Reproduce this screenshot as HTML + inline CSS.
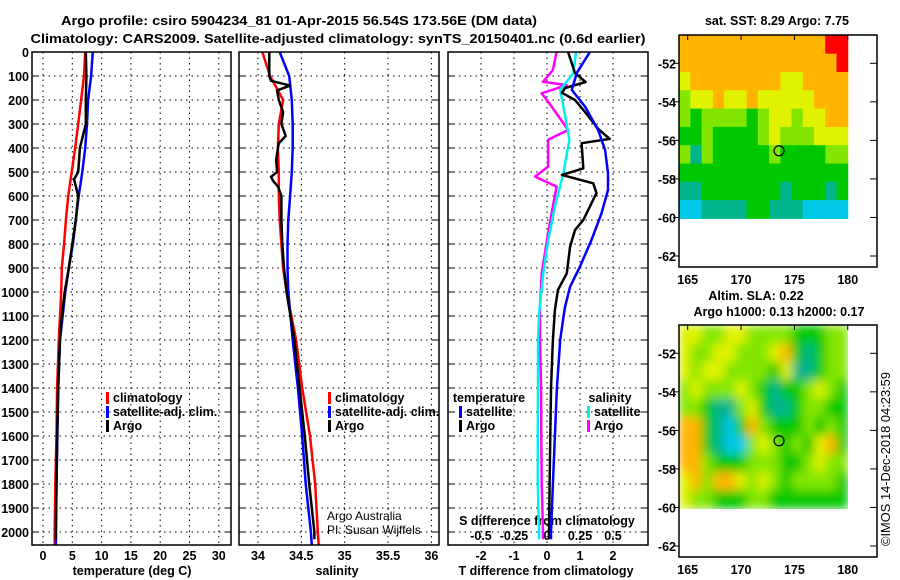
<!DOCTYPE html>
<html><head><meta charset="utf-8">
<style>
html,body{margin:0;padding:0;background:#fff;}
svg{display:block;font-family:"Liberation Sans",sans-serif;}
.b{font-weight:bold;font-size:13px;}
.t{font-weight:bold;font-size:12.5px;}
</style></head>
<body>
<svg id="fig" width="900" height="580" viewBox="0 0 900 580" xmlns="http://www.w3.org/2000/svg">
<text x="299" y="25" text-anchor="middle" class="b" font-size="14" textLength="476" lengthAdjust="spacingAndGlyphs">Argo profile: csiro 5904234_81 01-Apr-2015 56.54S 173.56E (DM data)</text>
<text x="338" y="43" text-anchor="middle" class="b" font-size="14" textLength="615" lengthAdjust="spacingAndGlyphs">Climatology: CARS2009. Satellite-adjusted climatology: synTS_20150401.nc (0.6d earlier)</text>
<text x="777" y="25" text-anchor="middle" class="t">sat. SST: 8.29 Argo: 7.75</text>
<text x="756" y="300" text-anchor="middle" class="t">Altim. SLA: 0.22</text>
<text x="779" y="316" text-anchor="middle" class="t">Argo h1000: 0.13 h2000: 0.17</text>
<text transform="translate(890,546) rotate(-90)" font-size="12.5" textLength="174" lengthAdjust="spacingAndGlyphs">©IMOS 14-Dec-2018 04:23:59</text>
<text x="132" y="575" text-anchor="middle" class="t">temperature (deg C)</text>
<text x="337" y="575" text-anchor="middle" class="t">salinity</text>
<text x="546" y="575" text-anchor="middle" class="t">T difference from climatology</text>
<text x="547" y="525" text-anchor="middle" class="t">S difference from climatology</text>
<text x="327" y="520" font-size="12">Argo Australia</text>
<text x="327" y="534" font-size="12">PI: Susan Wijffels</text>
<defs>
<clipPath id="c1"><rect x="32" y="52" width="199" height="493"/></clipPath>
<clipPath id="c2"><rect x="239" y="52" width="200" height="493"/></clipPath>
<clipPath id="c3"><rect x="448" y="52" width="200" height="493"/></clipPath>
<clipPath id="cm2"><rect x="679" y="325" width="169" height="184"/></clipPath>
<filter id="blur" x="-5%" y="-5%" width="110%" height="110%"><feGaussianBlur stdDeviation="5" edgeMode="duplicate"/></filter>
</defs>
</svg>
<script>
// ---- profile data (depth in dbar) ----
const tDepth = [0,100,200,300,400,500,530,600,700,800,900,1000,1100,1200,1400,1600,1800,2000,2030];
const tArgo  = [7.3,7.4,7.3,7.3,6.3,6.0,5.3,6.0,5.6,5.0,4.4,3.7,3.2,2.9,2.6,2.4,2.3,2.2,2.2];
const climDepth = [0,100,200,300,400,500,600,700,800,900,1000,1200,1400,1600,1800,2000,2056];
const tClim  = [7.2,7.0,6.5,6.0,5.5,4.9,4.3,3.9,3.6,3.2,3.1,2.7,2.4,2.3,2.1,2.0,2.0];
const tSat   = [8.5,8.2,7.7,7.5,7.2,6.7,6.1,5.6,5.1,4.4,3.8,2.9,2.6,2.45,2.3,2.2,2.2];
const sClim  = [34.05,34.14,34.29,34.24,34.23,34.24,34.24,34.25,34.27,34.29,34.33,34.44,34.51,34.60,34.66,34.69,34.70];
const sSat   = [34.25,34.36,34.39,34.40,34.40,34.39,34.37,34.35,34.34,34.34,34.35,34.40,34.46,34.51,34.55,34.61,34.62];
const sArgoDepth = [0,100,120,140,160,200,250,300,350,380,400,450,500,520,540,560,600,700,800,900,1000,1200,1400,1600,1800,2000,2030];
const sArgo  = [34.13,34.13,34.15,34.37,34.22,34.24,34.29,34.27,34.32,34.24,34.23,34.21,34.22,34.15,34.18,34.23,34.27,34.27,34.28,34.30,34.33,34.42,34.48,34.54,34.59,34.65,34.65];
const dDepth = [0,88,125,150,170,200,250,320,362,380,485,512,547,588,700,742,811,922,992,1075,1200,1400,1600,1800,2000,2030];
const dTArgo = [0.64,0.85,1.17,0.55,0.45,0.85,1.15,1.55,1.9,1.05,1.1,0.45,1.4,1.5,1.1,0.85,0.7,0.6,0.33,0.24,0.18,0.12,0.1,0.08,0.06,0.06];
const dSatDepth = [0,88,158,227,325,408,505,575,672,783,894,978,1061,1103,1200,1400,1600,1800,2000,2030];
const dTSat  = [1.3,0.9,0.75,1.15,1.55,1.76,1.85,1.85,1.65,1.35,1.0,0.7,0.55,0.5,0.4,0.3,0.24,0.18,0.12,0.12];
const dSDepth = [0,75,124,138,172,227,325,366,477,519,561,672,783,922,1061,1200,1400,1600,1800,2000,2030];
const dSArgo = [0.073,0.045,-0.03,0.15,-0.04,0.035,0.16,0.008,0.008,-0.09,0.073,0.035,0,-0.04,-0.053,-0.053,-0.045,-0.043,-0.04,-0.03,-0.03];
const dSSatDepth = [0,88,158,227,366,505,644,783,922,1089,1200,1400,1600,1800,2000,2030];
const dSSat  = [0.22,0.2,0.1,0.124,0.17,0.124,0.06,0.01,-0.028,-0.06,-0.068,-0.068,-0.07,-0.07,-0.06,-0.06];
// ticks
const depthTicks = [0,100,200,300,400,500,600,700,800,900,1000,1100,1200,1300,1400,1500,1600,1700,1800,1900,2000];
const tTicks = [0,5,10,15,20,25,30];
const sTicks = [34,34.5,35,35.5,36];
const sTickLabels = ["34","34.5","35","35.5","36"];
const dTTicks = [-2,-1,0,1,2];
const dSTicks = [-0.5,-0.25,0,0.25,0.5];
const dSTickLabels = ["-0.5","-0.25","0","0.25","0.5"];
const latTicks = [52,54,56,58,60,62];
const lonTicks = [165,170,175,180];
// map grids (palette index), rows from 50.55S to 60.05S, cols 164.2E to 180E
const sstGrid = [
[6,6,6,6,6,6,6,6,6,6,6,6,6,7,7],
[6,6,6,6,6,6,6,6,6,6,6,6,6,6,7],
[5,6,6,6,6,6,6,6,6,5,5,6,6,6,6],
[4,5,5,6,5,5,6,5,5,5,5,5,6,6,6],
[4,3,4,4,4,4,3,4,5,5,4,5,5,6,6],
[3,3,4,3,3,3,3,4,5,4,4,4,5,5,5],
[4,2,4,3,3,3,3,3,4,3,3,3,3,4,4],
[3,3,3,3,3,3,3,3,3,3,3,3,3,3,3],
[2,2,3,3,3,3,3,3,3,2,3,3,3,2,3],
[1,1,2,2,2,2,3,3,2,2,2,1,1,1,1]];
const slaGrid = [
[5,5,4,4,5,5,4,4,4,4,3,3,3,4,4],
[5,4,4,5,5,4,4,4,5,6,3,2,3,4,4],
[5,4,5,5,4,4,4,4,3,5,2,2,3,4,4],
[4,5,4,4,4,5,4,3,2,3,3,4,5,4,3],
[4,4,3,2,2,4,5,3,2,2,3,4,4,3,3],
[6,6,3,2,1,3,6,4,3,3,3,4,3,4,3],
[6,6,3,2,1,1,4,5,4,3,4,3,5,6,3],
[6,6,4,3,3,3,4,4,4,3,3,4,5,4,4],
[5,6,4,6,6,5,4,5,4,3,4,4,4,4,3],
[5,4,4,3,3,3,4,4,3,3,3,3,3,3,3]];
const palette = ["#0040ff","#00c8e8","#00b48c","#00c800","#82e600","#e0f200","#ffb400","#ff0000"];
const argoLon = 173.56, argoLatS = 56.54;

const NS="http://www.w3.org/2000/svg";
const svg=document.getElementById('fig');
function mk(tag,at,parent){const e=document.createElementNS(NS,tag);for(const k in at)e.setAttribute(k,at[k]);(parent||svg).appendChild(e);return e;}
const yD=d=>52+0.24*d;
const xT=t=>43+5.86*t;
const xS=s=>258+86.7*(s-34);
const xDT=t=>547+33*t;
const xDS=s=>547+132*s;
const xLon=l=>687.7+10.67*(l-165);
const yLatTop=l=>63.3+19.27*(l-52);
const yLatBot=l=>353.3+19.27*(l-52);

const panels=[{x0:32,x1:231,n:'temperature'},{x0:239,x1:439,n:'salinity'},{x0:448,x1:648,n:'difference'}];
panels.forEach(p=>{
  depthTicks.forEach(d=>{
    const g=mk('line',{x1:p.x0,x2:p.x1,y1:yD(d),y2:yD(d),stroke:'#000','stroke-width':1,'stroke-dasharray':'1.5 4'});
    
    
    const tk=mk('line',{x1:p.x0,x2:p.x0+6,y1:yD(d),y2:yD(d),stroke:'#000','stroke-width':1});
    
    
    const tk2=mk('line',{x1:p.x1-6,x2:p.x1,y1:yD(d),y2:yD(d),stroke:'#000','stroke-width':1});
    
    
  });
});
depthTicks.forEach(d=>{
  const t=mk('text',{x:29,y:yD(d)+5,'text-anchor':'end','class':'t'});t.textContent=String(d);
  
  
});
function vgrid(x,name){
  const g=mk('line',{x1:x,x2:x,y1:52,y2:545,stroke:'#000','stroke-width':1,'stroke-dasharray':'1.5 4'});
  
  
}
function label(x,y,txt,name){
  const t=mk('text',{x:x,y:y,'text-anchor':'middle','class':'t'});t.textContent=txt;
  
  
}
tTicks.forEach(v=>{vgrid(xT(v),'temperature-gridline');label(xT(v),560,String(v),'temperature-tick-label');});
sTicks.forEach((v,i)=>{vgrid(xS(v),'salinity-gridline');label(xS(v),560,sTickLabels[i],'salinity-tick-label');});
dTTicks.forEach(v=>{vgrid(xDT(v),'t-difference-gridline');label(xDT(v),560,String(v),'t-difference-tick-label');});
dSTicks.forEach((v,i)=>{label(xDS(v),540,dSTickLabels[i],'s-difference-tick-label');});

function line(xs,ds,xf,color,clip,name,w){
  const pts=xs.map((v,i)=>xf(v).toFixed(1)+','+yD(ds[i]).toFixed(1)).join(' ');
  const e=mk('polyline',{points:pts,fill:'none',stroke:color,'stroke-width':w||2.5,'stroke-linejoin':'round','clip-path':'url(#'+clip+')'});
  
  
}
line(tClim,climDepth,xT,'#ff0000','c1','temperature-climatology-line');
line(tSat,climDepth,xT,'#0000ff','c1','temperature-satellite-line');
line(tArgo,tDepth,xT,'#000','c1','temperature-argo-line');
line(sClim,climDepth,xS,'#ff0000','c2','salinity-climatology-line');
line(sSat,climDepth,xS,'#0000ff','c2','salinity-satellite-line');
line(sArgo,sArgoDepth,xS,'#000','c2','salinity-argo-line');
line(dSArgo,dSDepth,xDS,'#ff00ff','c3','s-difference-argo-line');
line(dSSat,dSSatDepth,xDS,'#00f0f0','c3','s-difference-satellite-line');
line(dTArgo,dDepth,xDT,'#000','c3','t-difference-argo-line');
line(dTSat,dSatDepth,xDT,'#0000ff','c3','t-difference-satellite-line');

panels.forEach(p=>{
  const f=mk('rect',{x:p.x0,y:52,width:p.x1-p.x0,height:493,fill:'none',stroke:'#000','stroke-width':1.5});
  
  
});

function legend(x,y,color,txt,name){
  const m=mk('rect',{x:x,y:y-10,width:3,height:12,fill:color});
  
  
  const t=mk('text',{x:x+7,y:y,'class':'t'});t.textContent=txt;
  
  
}
legend(106,402,'#ff0000','climatology','legend-entry-climatology');
legend(106,416,'#0000ff','satellite-adj. clim.','legend-entry-satellite');
legend(106,430,'#000','Argo','legend-entry-argo');
legend(328,402,'#ff0000','climatology','salinity-legend-climatology');
legend(328,416,'#0000ff','satellite-adj. clim.','salinity-legend-satellite');
legend(328,430,'#000','Argo','salinity-legend-argo');
label(489,402,'temperature','legend-temperature-heading');
legend(459,416,'#0000ff','satellite','legend-t-satellite');
legend(459,430,'#000','Argo','legend-t-argo');
label(610,402,'salinity','legend-salinity-heading');
legend(587,416,'#00f0f0','satellite','legend-s-satellite');
legend(587,430,'#ff00ff','Argo','legend-s-argo');

function drawMap(grid,yLat,fy,name,blur){
  const g=mk('g',blur?{'clip-path':'url(#cm2)'}:{});
  const inner=mk('g',blur?{filter:'url(#blur)'}:{},g);
  const lon0=164.2,lon1=180,lat0=50.55,lat1=60.05;
  const nr=grid.length,nc=grid[0].length;
  grid.forEach((row,r)=>row.forEach((v,c)=>{
    const xa=xLon(lon0+(lon1-lon0)*c/nc),xb=xLon(lon0+(lon1-lon0)*(c+1)/nc);
    const ya=yLat(lat0+(lat1-lat0)*r/nr),yb=yLat(lat0+(lat1-lat0)*(r+1)/nr);
    const cell=mk('rect',{x:xa,y:ya,width:xb-xa+0.5,height:yb-ya+0.5,fill:palette[v]},inner);
    
    
  }));
  const fr=mk('rect',{x:679,y:fy,width:198,height:232,fill:'none',stroke:'#000','stroke-width':1.5});
  
  
  latTicks.forEach(l=>{
    const t=mk('text',{x:676,y:yLat(l)+5,'text-anchor':'end','class':'t'});t.textContent='-'+l;
    
    
    const tk=mk('line',{x1:870,x2:877,y1:yLat(l),y2:yLat(l),stroke:'#000'});
    
    
    const tk2=mk('line',{x1:679,x2:673,y1:yLat(l),y2:yLat(l),stroke:'#000'});
    
    
  });
  lonTicks.forEach(l=>{
    const t=mk('text',{x:xLon(l),y:fy+249,'text-anchor':'middle','class':'t'});t.textContent=String(l);
    
    
    const tk=mk('line',{x1:xLon(l),x2:xLon(l),y1:fy,y2:fy+5,stroke:'#000'});
    
    
  });
  const c=mk('circle',{cx:xLon(argoLon),cy:yLat(argoLatS),r:5,fill:'none',stroke:'#000','stroke-width':1.2});
  
  
}
drawMap(sstGrid,yLatTop,35,'sst-map',false);
drawMap(slaGrid,yLatBot,325,'sla-map',true);
</script>
</body></html>
